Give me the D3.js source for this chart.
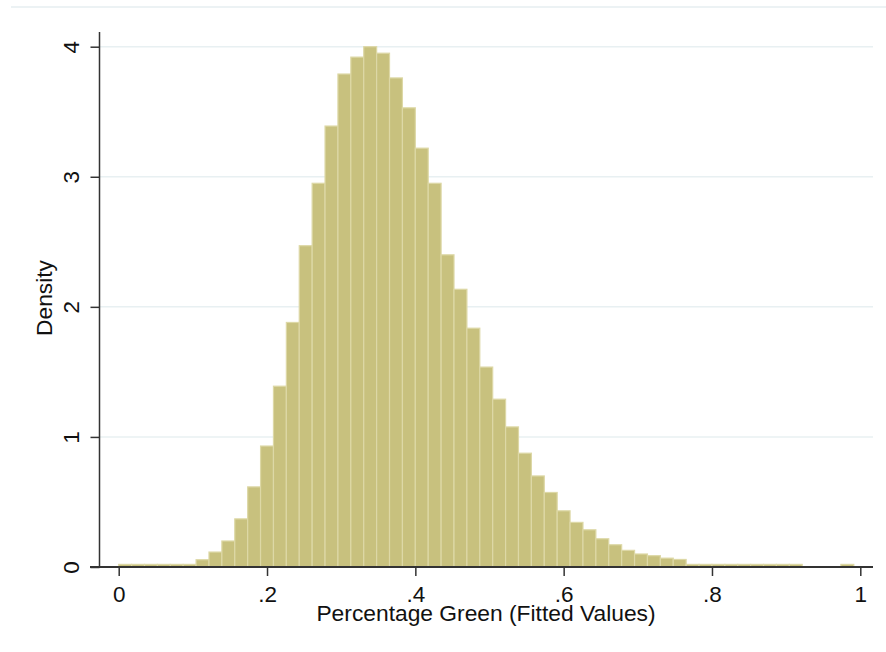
<!DOCTYPE html>
<html>
<head>
<meta charset="utf-8">
<script src="https://cdn.jsdelivr.net/npm/d3@7"></script>
<style>
  body { margin: 0; background: #fff; }
  text { font-family: "Liberation Sans", Arial, sans-serif; fill: #111; }
</style>
</head>
<body>
<script>
// histogram of fitted values, density per bin
var binStart = 0;
var binWidth = 0.01739;
var density = [0.02, 0.02, 0.02, 0.02, 0.02, 0.02,
	0.056, 0.115, 0.20, 0.37, 0.616, 0.93, 1.39, 1.88, 2.47, 2.95,
	3.39, 3.79, 3.92, 4.00, 3.95, 3.76, 3.53, 3.22, 2.95, 2.40,
	2.135, 1.836, 1.537, 1.29, 1.077, 0.875, 0.70, 0.573, 0.432, 0.343,
	0.286, 0.217, 0.171, 0.128, 0.10, 0.087, 0.068, 0.058,
	0.02, 0.02, 0.02, 0.02, 0.02, 0.02, 0.02, 0.02, 0.02,
	0, 0, 0, 0.02];

var xTicks = [0, 0.2, 0.4, 0.6, 0.8, 1];
var xTickLabels = ["0", ".2", ".4", ".6", ".8", "1"];
var yTicks = [0, 1, 2, 3, 4];
var gridTicks = [1, 2, 3, 4];

var width = 886, height = 652;

var bins = [];
for (var i = 0; i < density.length; i++){
	bins.push({x0: binStart + i*binWidth, x1: binStart + (i+1)*binWidth, d: density[i]});
}

var x = d3.scaleLinear()
		.domain([0, 1])
		.range([118.7, 860.3]);

var y = d3.scaleLinear()
		.domain([0, 4])
		.range([567, 46.7]);

var svg = d3.select("body").append("svg")
		.attr("width", width).attr("height", height);

svg.append("rect").attr("width", width).attr("height", height).attr("fill", "#fff");

// faint frame line at top of the graph region
svg.append("line")
	.attr("x1", 11).attr("x2", width)
	.attr("y1", 7).attr("y2", 7)
	.attr("stroke", "#e6eef0").attr("stroke-width", 1.5);

// gridlines
svg.selectAll(".grid").data(gridTicks)
	.enter().append("line")
	.attr("class", "grid")
	.attr("x1", 100).attr("x2", 873)
	.attr("y1", function(d){ return y(d); })
	.attr("y2", function(d){ return y(d); })
	.attr("stroke", "#e8f0f2").attr("stroke-width", 1.5);

// bars
svg.selectAll(".bar").data(bins.filter(function(b){ return b.d > 0; }))
	.enter().append("rect")
	.attr("class", "bar")
	.attr("x", function(b){ return x(b.x0); })
	.attr("width", function(b){ return x(b.x1) - x(b.x0); })
	.attr("y", function(b){ return y(b.d); })
	.attr("height", function(b){ return y(0) - y(b.d); })
	.attr("fill", "#c8c17e")
	.attr("stroke", "#ddd8a6")
	.attr("stroke-width", 1.2);

// axes
var xAxis = d3.axisBottom(x).tickValues(xTicks)
		.tickFormat(function(d, i){ return xTickLabels[i]; })
		.tickSize(9).tickSizeOuter(0);
var yAxis = d3.axisLeft(y).tickValues(yTicks)
		.tickFormat(d3.format("d"))
		.tickSize(9).tickSizeOuter(0);

var gx = svg.append("g").attr("transform", "translate(0," + y(0) + ")").call(xAxis);
var gy = svg.append("g").attr("transform", "translate(99.5,0)").call(yAxis);

[gx, gy].forEach(function(g){
	g.select(".domain").remove();
	g.selectAll(".tick line").attr("stroke", "#333").attr("stroke-width", 1.5);
	g.selectAll(".tick text").style("font-size", "22.5px").attr("fill", "#111");
});

gx.selectAll(".tick text").attr("y", 35).attr("dy", 0);

gy.selectAll(".tick text")
	.attr("transform", "rotate(-90)")
	.attr("x", 0).attr("y", -21).attr("dy", 0)
	.style("text-anchor", "middle");

// axis lines
svg.append("line")
	.attr("x1", 99.5).attr("x2", 99.5)
	.attr("y1", 32).attr("y2", y(0))
	.attr("stroke", "#333").attr("stroke-width", 1.5);
svg.append("line")
	.attr("x1", 90).attr("x2", 873)
	.attr("y1", y(0)).attr("y2", y(0))
	.attr("stroke", "#333").attr("stroke-width", 1.8);

// titles
svg.append("text")
	.attr("x", 486).attr("y", 621)
	.style("text-anchor", "middle").style("font-size", "22.8px")
	.text("Percentage Green (Fitted Values)");

svg.append("text")
	.attr("transform", "translate(52,298) rotate(-90)")
	.style("text-anchor", "middle").style("font-size", "22.8px")
	.text("Density");
</script>
</body>
</html>
